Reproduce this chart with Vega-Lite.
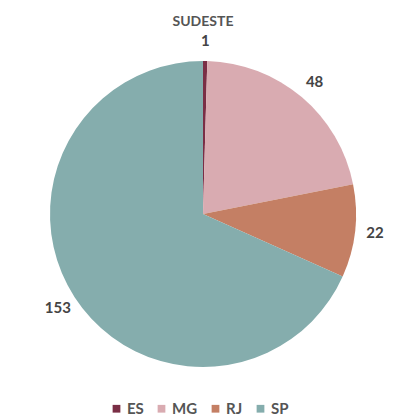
{
  "$schema": "https://vega.github.io/schema/vega-lite/v6.json",
  "width": 396,
  "height": 410,
  "autosize": "none",
  "padding": {"left": 5, "top": 9, "right": 0, "bottom": 0},
  "background": "white",
  "title": {"text": "SUDESTE", "frame": "group", "offset": -34, "font": "Lato", "fontSize": 14, "fontWeight": "bold", "color": "#555555", "anchor": "middle", "baseline": "bottom"},
  "data": {"values": [
    {"estado": "ES", "valor": 1},
    {"estado": "MG", "valor": 48},
    {"estado": "RJ", "valor": 22},
    {"estado": "SP", "valor": 153}
  ]},
  "encoding": {
    "theta": {"field": "valor", "type": "quantitative", "stack": true},
    "order": {"field": "estado", "sort": "ascending"},
    "color": {"field": "estado", "type": "nominal",
      "scale": {"domain": ["ES", "MG", "RJ", "SP"], "range": ["#7a2e45", "#d9abb1", "#c47f64", "#85adad"]},
      "legend": {"title": null, "orient": "none", "direction": "horizontal", "legendX": 104, "legendY": 392,
        "symbolType": "square", "symbolSize": 60, "symbolStrokeWidth": 0, "labelFont": "Lato", "labelFontSize": 15, "labelFontWeight": "bold", "labelColor": "#555555", "columnPadding": 10, "labelOffset": 3}}
  },
  "layer": [
    {"mark": {"type": "arc", "outerRadius": 153}},
    {"mark": {"type": "text", "radius": 173, "font": "Lato", "fontSize": 15, "fontWeight": "bold"},
     "encoding": {"text": {"field": "valor", "type": "quantitative"}, "color": {"value": "#444444"}}}
  ],
  "config": {"view": {"stroke": null}}
}
